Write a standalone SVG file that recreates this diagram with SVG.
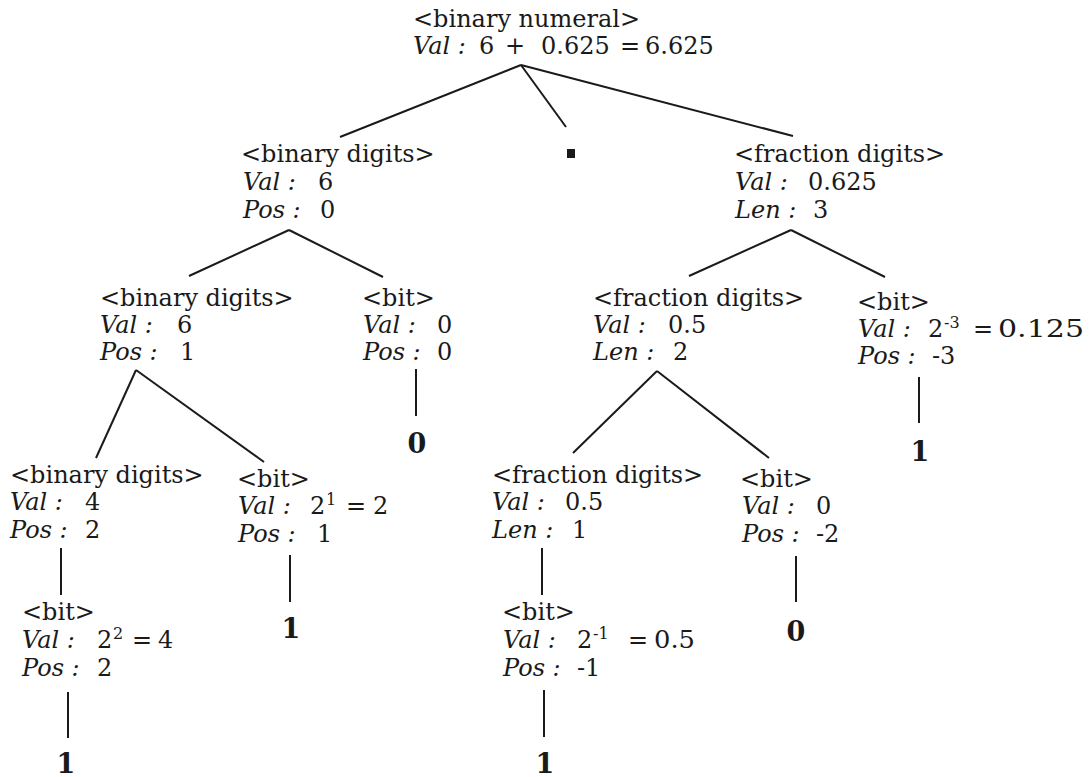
<svg xmlns="http://www.w3.org/2000/svg" width="1092" height="777" viewBox="0 0 1092 777">
<style>
.t{font-family:"DejaVu Serif","Liberation Serif",serif;font-size:24px;fill:#1a1a1a}
.i{font-style:italic}
.b{font-family:"DejaVu Serif","Liberation Serif",serif;font-weight:bold;font-size:27px;fill:#1a1a1a;text-anchor:middle}
.s{font-size:16px}
.c line{stroke:#1a1a1a;stroke-width:2;fill:none}
</style>
<rect width="1092" height="777" fill="#ffffff"/>
<g id="connectors" class="c">
<line x1="521" y1="65" x2="340" y2="137"/>
<line x1="521" y1="65" x2="566" y2="127"/>
<line x1="521" y1="65" x2="793" y2="136"/>
<line x1="289" y1="230" x2="189" y2="276"/>
<line x1="289" y1="230" x2="383" y2="277"/>
<line x1="791" y1="230" x2="689" y2="276"/>
<line x1="791" y1="230" x2="885" y2="277"/>
<line x1="136" y1="370" x2="96" y2="458"/>
<line x1="136" y1="370" x2="264" y2="462"/>
<line x1="416" y1="369" x2="416" y2="416"/>
<line x1="657" y1="371" x2="573" y2="453"/>
<line x1="657" y1="371" x2="769" y2="458"/>
<line x1="919" y1="377" x2="919" y2="423"/>
<line x1="61" y1="548" x2="61" y2="595"/>
<line x1="290" y1="555" x2="290" y2="602"/>
<line x1="542" y1="548" x2="542" y2="595"/>
<line x1="796" y1="556" x2="796" y2="602"/>
<line x1="68" y1="692" x2="68" y2="738"/>
<line x1="544" y1="690" x2="544" y2="737"/>
</g>
<g id="root">
<text class="t" x="413" y="27">&lt;binary numeral&gt;</text>
<text class="t" y="54"><tspan class="i" x="413">Val :</tspan><tspan x="479">6</tspan><tspan x="505">+</tspan><tspan x="541">0.625</tspan><tspan x="620">=</tspan><tspan x="645">6.625</tspan></text>
</g>
<g id="dot"><rect x="567" y="149" width="8" height="9" fill="#1a1a1a"/></g>
<g id="bd1">
<text class="t" x="241" y="162">&lt;binary digits&gt;</text>
<text class="t" y="190"><tspan class="i" x="243">Val :</tspan><tspan x="318">6</tspan></text>
<text class="t" y="218"><tspan class="i" x="243">Pos :</tspan><tspan x="320">0</tspan></text>
</g>
<g id="fd1">
<text class="t" x="734" y="162">&lt;fraction digits&gt;</text>
<text class="t" y="190"><tspan class="i" x="735">Val :</tspan><tspan x="808">0.625</tspan></text>
<text class="t" y="218"><tspan class="i" x="735">Len :</tspan><tspan x="813">3</tspan></text>
</g>
<g id="bd2">
<text class="t" x="100" y="306">&lt;binary digits&gt;</text>
<text class="t" y="333"><tspan class="i" x="100">Val :</tspan><tspan x="177">6</tspan></text>
<text class="t" y="360"><tspan class="i" x="100">Pos :</tspan><tspan x="180">1</tspan></text>
</g>
<g id="bit0">
<text class="t" x="362" y="306">&lt;bit&gt;</text>
<text class="t" y="333"><tspan class="i" x="363">Val :</tspan><tspan x="437">0</tspan></text>
<text class="t" y="360"><tspan class="i" x="363">Pos :</tspan><tspan x="437">0</tspan></text>
</g>
<g id="leaf0a"><text class="b" x="417" y="453">0</text></g>
<g id="fd2">
<text class="t" x="593" y="306">&lt;fraction digits&gt;</text>
<text class="t" y="333"><tspan class="i" x="593">Val :</tspan><tspan x="668">0.5</tspan></text>
<text class="t" y="360"><tspan class="i" x="593">Len :</tspan><tspan x="673">2</tspan></text>
</g>
<g id="bitR">
<text class="t" x="857" y="310">&lt;bit&gt;</text>
<text class="t" y="337"><tspan class="i" x="858">Val :</tspan><tspan x="928">2</tspan><tspan class="s" x="944" dy="-9">-3</tspan><tspan x="973" dy="9">=</tspan><tspan x="998" textLength="86" lengthAdjust="spacingAndGlyphs">0.125</tspan></text>
<text class="t" y="364"><tspan class="i" x="858">Pos :</tspan><tspan x="932">-3</tspan></text>
</g>
<g id="leaf1a"><text class="b" x="920" y="461">1</text></g>
<g id="bd3">
<text class="t" x="10" y="483">&lt;binary digits&gt;</text>
<text class="t" y="510"><tspan class="i" x="10">Val :</tspan><tspan x="85">4</tspan></text>
<text class="t" y="538"><tspan class="i" x="10">Pos :</tspan><tspan x="85">2</tspan></text>
</g>
<g id="bit1">
<text class="t" x="237" y="487">&lt;bit&gt;</text>
<text class="t" y="514"><tspan class="i" x="238">Val :</tspan><tspan x="310">2</tspan><tspan class="s" x="326" dy="-9">1</tspan><tspan x="346" dy="9">=</tspan><tspan x="373">2</tspan></text>
<text class="t" y="542"><tspan class="i" x="238">Pos :</tspan><tspan x="317">1</tspan></text>
</g>
<g id="leaf1b"><text class="b" x="291" y="638">1</text></g>
<g id="bit2">
<text class="t" x="22" y="620">&lt;bit&gt;</text>
<text class="t" y="648"><tspan class="i" x="22">Val :</tspan><tspan x="97">2</tspan><tspan class="s" x="113" dy="-9">2</tspan><tspan x="132" dy="9">=</tspan><tspan x="158">4</tspan></text>
<text class="t" y="676"><tspan class="i" x="22">Pos :</tspan><tspan x="97">2</tspan></text>
</g>
<g id="leaf1c"><text class="b" x="66" y="773">1</text></g>
<g id="fd3">
<text class="t" x="492" y="483">&lt;fraction digits&gt;</text>
<text class="t" y="510"><tspan class="i" x="492">Val :</tspan><tspan x="565">0.5</tspan></text>
<text class="t" y="538"><tspan class="i" x="492">Len :</tspan><tspan x="572">1</tspan></text>
</g>
<g id="bit3">
<text class="t" x="740" y="487">&lt;bit&gt;</text>
<text class="t" y="514"><tspan class="i" x="742">Val :</tspan><tspan x="816">0</tspan></text>
<text class="t" y="542"><tspan class="i" x="742">Pos :</tspan><tspan x="816">-2</tspan></text>
</g>
<g id="leaf0b"><text class="b" x="796" y="641">0</text></g>
<g id="bit4">
<text class="t" x="502" y="620">&lt;bit&gt;</text>
<text class="t" y="648"><tspan class="i" x="503">Val :</tspan><tspan x="577">2</tspan><tspan class="s" x="593" dy="-9">-1</tspan><tspan x="628" dy="9">=</tspan><tspan x="654" textLength="41" lengthAdjust="spacingAndGlyphs">0.5</tspan></text>
<text class="t" y="676"><tspan class="i" x="503">Pos :</tspan><tspan x="577">-1</tspan></text>
</g>
<g id="leaf1d"><text class="b" x="545" y="773">1</text></g>
</svg>
